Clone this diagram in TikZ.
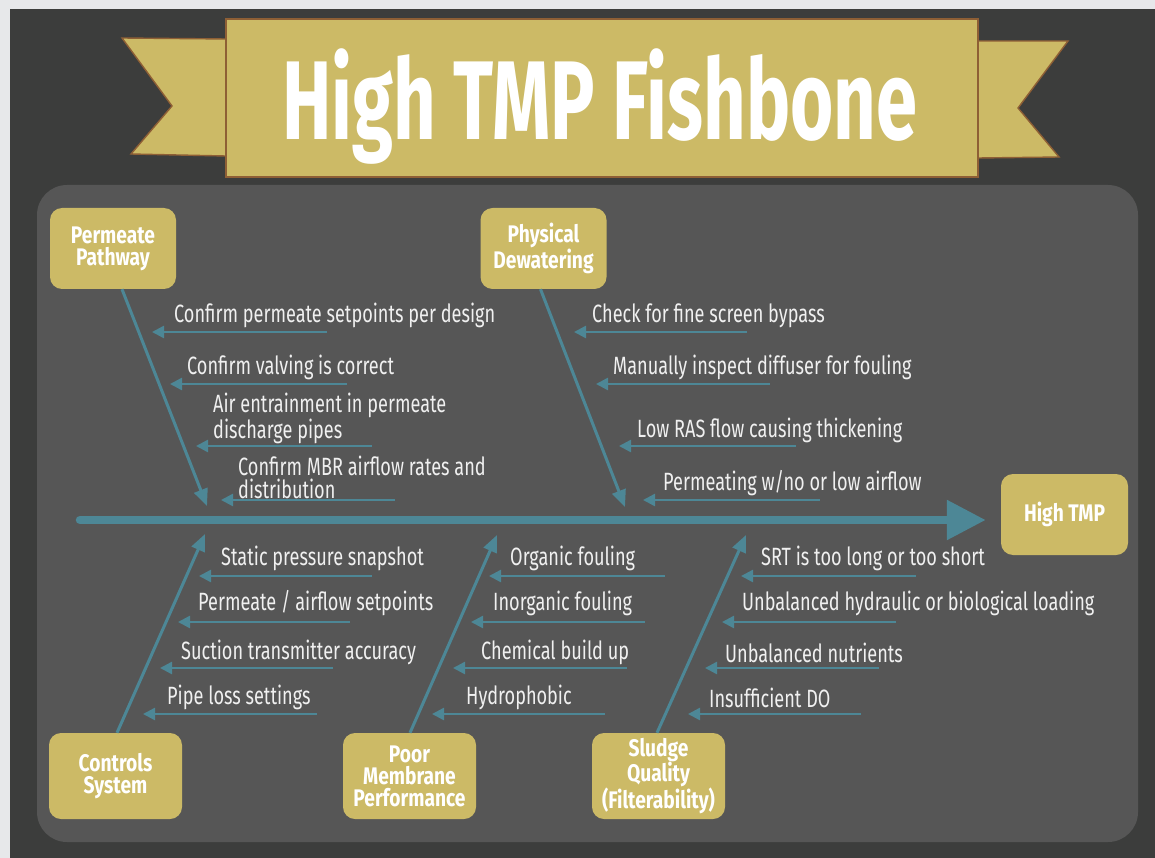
\documentclass[tikz,border=0pt]{standalone}
\usepackage{fontspec}
\setmainfont{Fira Sans}
\newfontfamily\labelfont[FakeStretch=0.725]{Fira Sans}
\newfontfamily\boxfont[FakeStretch=0.80]{Fira Sans}
\newfontfamily\titlefont[FakeStretch=0.662]{Fira Sans}
\usetikzlibrary{arrows.meta}

\definecolor{pagebg}{HTML}{E7E8EA}
\definecolor{darkbg}{HTML}{3C3D3C}
\definecolor{panelbg}{HTML}{565656}
\definecolor{gold}{HTML}{CCBA66}
\definecolor{ribbonedge}{HTML}{8E5F35}
\definecolor{bonecol}{HTML}{4D8796}
\definecolor{labelcol}{HTML}{F0F0F0}

\tikzset{
  ribbon/.style={fill=gold, draw=ribbonedge, line width=1.4pt, line join=miter},
  causebox/.style={fill=gold, rounded corners=12pt, text=white, inner sep=0pt,
    font=\boxfont\bfseries\fontsize{24}{22}\selectfont, align=center},
  smallbox/.style={causebox, minimum width=126pt, minimum height=81pt},
  bigbox/.style={causebox, minimum width=133pt, minimum height=86pt},
  lbl/.style={anchor=west, inner sep=0pt, text=labelcol, align=left,
    font=\labelfont\fontsize{25}{23}\selectfont},
  spine/.style={draw=bonecol, line width=8.5pt, line cap=round,
    -{Triangle[length=39pt,width=38pt]}},
  bone/.style={draw=bonecol, line width=3pt, -{Triangle[length=17pt,width=14pt]}},
  twig/.style={draw=bonecol, line width=2.5pt, -{Triangle[length=12pt,width=12pt]}}
}

% label text at a point, with its arrow running left at height #6
\newcommand{\twig}[6]{%
  \node[lbl] (#1) at ([yshift=-1.5pt]#2) {#3};
  \coordinate (#1s) at (#4,#6);
  \coordinate (#1e) at (#5,#6);
  \draw[twig] (#1s) -- (#1e);}

\begin{document}
\begin{tikzpicture}[x=1pt,y=-1pt]
\useasboundingbox (0,0) rectangle (1155,858);
% backgrounds
\fill[pagebg] (0,0) rectangle (1155,858);
\fill[darkbg] (10,9) rectangle (1155,858);
\fill[panelbg, rounded corners=30pt] (37,185) rectangle (1138,842);

% title ribbon
\filldraw[ribbon] (122,38) -- (226,39) -- (226,156) -- (131,154) -- (172,106) -- cycle;
\filldraw[ribbon] (978,41) -- (1068,41) -- (1018,108) -- (1059,157) -- (978,158) -- cycle;
\node[ribbon, minimum width=752pt, minimum height=158pt, inner sep=0pt] (banner) at (602,98) {};
\node[anchor=base, inner sep=0pt, text=white,
  font=\titlefont\bfseries\fontsize{112}{112}\selectfont] (title) at (600,140) {High TMP Fishbone};

% cause boxes
\node[smallbox] (pp) at (113,248.5) {Permeate\\Pathway};
\node[smallbox] (pd) at (543.5,248.5) {Physical\\Dewatering};
\node[smallbox, minimum width=127pt] (tmp) at (1064.5,514.5) {High TMP};
\node[bigbox] (cs) at (115.5,776) {Controls\\System};
\node[bigbox] (pm) at (409.5,776) {Poor\\Membrane\\Performance};
\node[bigbox] (sq) at (658.5,776) {Sludge\\Quality\\(Filterability)};

% spine
\coordinate (tail) at (80,520);
\draw[spine, shorten >=15pt] (tail) -- (tail -| tmp.west);

% main bones
\coordinate (ppTip) at (207,506);
\coordinate (pdTip) at (625,507);
\coordinate (csTip) at (205,534);
\coordinate (pmTip) at (497,535);
\coordinate (sqTip) at (746,535);
\draw[bone] ([xshift=9pt]pp.south) -- (ppTip);
\draw[bone] ([xshift=-3pt]pd.south) -- (pdTip);
\draw[bone] ([xshift=1.5pt]cs.north) -- (csTip);
\draw[bone] ([xshift=0.5pt]pm.north) -- (pmTip);
\draw[bone] ([xshift=-1.5pt]sq.north) -- (sqTip);

% Permeate Pathway
\twig{a1}{174,314}{Confirm permeate setpoints per design}{327}{152}{332}
\twig{a2}{187,366}{Confirm valving is correct}{347}{170}{384}
\twig{a3}{213,416.5}{Air entrainment in permeate\\discharge pipes}{372}{196}{446}
\twig{a4}{238,476}{Confirm MBR airflow rates and\\distribution}{395}{221}{500}
% Physical Dewatering
\twig{b1}{592,314}{Check for fine screen bypass}{747}{574}{332}
\twig{b2}{613,366}{Manually inspect diffuser for fouling}{770}{596}{384}
\twig{b3}{637,429}{Low RAS flow causing thickening}{796}{619}{446}
\twig{b4}{663,482}{Permeating w/no or low airflow}{820}{643}{500}
% Controls System
\twig{c1}{221,557}{Static pressure snapshot}{372}{199}{576}
\twig{c2}{198,602}{Permeate / airflow setpoints}{350}{178}{622}
\twig{c3}{181,651}{Suction transmitter accuracy}{333}{160}{668}
\twig{c4}{167,696}{Pipe loss settings}{317}{143}{714}
% Poor Membrane Performance
\twig{d1}{510,557}{Organic fouling}{665}{489}{576}
\twig{d2}{493,602}{Inorganic fouling}{645}{471}{622}
\twig{d3}{481,651}{Chemical build up}{627}{453}{668}
\twig{d4}{466,696}{Hydrophobic}{605}{432}{714}
% Sludge Quality
\twig{e1}{761,557}{SRT is too long or too short}{916}{741}{576}
\twig{e2}{742,602}{Unbalanced hydraulic or biological loading}{896}{722}{622}
\twig{e3}{725,651}{Unbalanced nutrients}{879}{705}{668}
\twig{e4}{709,696}{Insufficient DO}{861}{688}{714}
\end{tikzpicture}
\end{document}
